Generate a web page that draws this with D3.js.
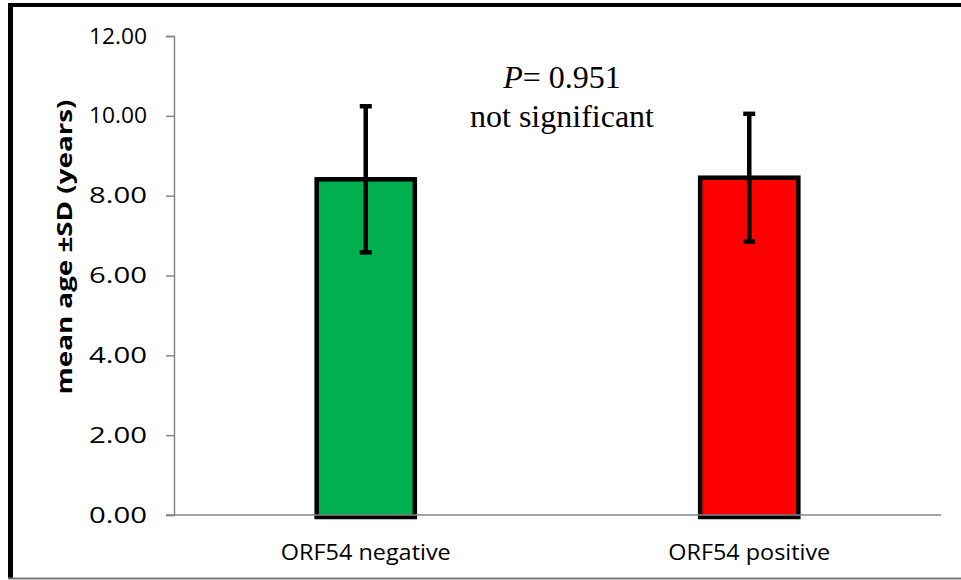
<!DOCTYPE html>
<html>
<head>
<meta charset="utf-8">
<script src="https://cdn.jsdelivr.net/npm/d3@7"></script>
<style>
  html, body { margin: 0; padding: 0; background: #fff; }
  svg { display: block; }
</style>
</head>
<body>
<script>
// data
const categories = ["ORF54 negative", "ORF54 positive"]
const means = [8.41, 8.45]
const sds = [1.83, 1.6]
const barColors = ["#00B050", "#FF0000"]
const yTicks = [0, 2, 4, 6, 8, 10, 12]
const yLabel = "mean age \u00B1SD (years)"
const pLine = "0.951"
const sigLine = "not significant"

// inits
const W = 961, H = 580
const m = {left: 174, right: 20, top: 36, bottom: 65}
const sans = "'Open Sans', 'Noto Sans', sans-serif"
const serif = "'Liberation Serif', 'Times New Roman', serif"

const svg = d3.select("body").append("svg")
    .attr("width", W)
    .attr("height", H)

// chart area frame (shadowed look)
svg.append("line").attr("x1", 8).attr("x2", W).attr("y1", 5).attr("y2", 5)
    .attr("stroke", "#000").attr("stroke-width", 4)
svg.append("line").attr("x1", 10.5).attr("x2", 10.5).attr("y1", 3).attr("y2", 579)
    .attr("stroke", "#000").attr("stroke-width", 5)
svg.append("line").attr("x1", 8).attr("x2", W).attr("y1", 578.5).attr("y2", 578.5)
    .attr("stroke", "#777").attr("stroke-width", 2)

// scales
const x = d3.scaleBand()
    .domain(categories)
    .range([m.left, 941])
    .padding(0)
const y = d3.scaleLinear()
    .domain([0, 12])
    .range([H - m.bottom, m.top])

const barW = x.bandwidth() * 0.256

// y axis
const yAxis = svg.append("g")
    .attr("transform", `translate(${m.left},0)`)
    .call(d3.axisLeft(y).tickValues(yTicks).tickFormat(d3.format(".2f")).tickSize(8).tickPadding(19))
yAxis.select(".domain").attr("stroke", "#868686").attr("stroke-width", 1.5)
yAxis.selectAll(".tick line").attr("stroke", "#868686").attr("stroke-width", 1.5)
yAxis.selectAll(".tick text")
    .attr("font-family", sans)
    .attr("font-size", 22)
    .attr("fill", "#000")
    .attr("textLength", 58)
    .attr("lengthAdjust", "spacingAndGlyphs")

// bars
svg.append("g").selectAll("rect")
    .data(categories)
    .join("rect")
    .attr("x", d => x(d) + x.bandwidth()/2 - barW/2)
    .attr("width", barW)
    .attr("y", (d, i) => y(means[i]))
    .attr("height", (d, i) => y(0) - y(means[i]) + 2)
    .attr("fill", (d, i) => barColors[i])
    .attr("stroke", "#000")
    .attr("stroke-width", 4.5)

// x axis line (drawn over bar bottoms)
svg.append("line")
    .attr("x1", m.left - 8).attr("x2", 941)
    .attr("y1", y(0)).attr("y2", y(0))
    .attr("stroke", "#868686").attr("stroke-width", 1.5)

// error bars
const err = svg.append("g").attr("stroke", "#000")
categories.forEach((c, i) => {
    let cx = x(c) + x.bandwidth()/2
    let hi = y(means[i] + sds[i]), lo = y(means[i] - sds[i])
    err.append("line").attr("x1", cx).attr("x2", cx).attr("y1", hi).attr("y2", lo).attr("stroke-width", 4.5)
    err.append("line").attr("x1", cx - 6).attr("x2", cx + 6).attr("y1", hi).attr("y2", hi).attr("stroke-width", 4.5)
    err.append("line").attr("x1", cx - 6).attr("x2", cx + 6).attr("y1", lo).attr("y2", lo).attr("stroke-width", 4.5)
})

// category labels
const catWidths = [170, 162]
svg.append("g").selectAll("text")
    .data(categories)
    .join("text")
    .attr("x", d => x(d) + x.bandwidth()/2)
    .attr("y", 560)
    .attr("text-anchor", "middle")
    .attr("font-family", sans)
    .attr("font-size", 22)
    .attr("fill", "#000")
    .attr("textLength", (d, i) => catWidths[i])
    .attr("lengthAdjust", "spacingAndGlyphs")
    .text(d => d)

// y label
svg.append("text")
    .attr("transform", `translate(72,247) rotate(-90)`)
    .attr("text-anchor", "middle")
    .attr("font-family", sans)
    .attr("font-weight", "bold")
    .attr("font-size", 21)
    .attr("fill", "#000")
    .attr("textLength", 295)
    .attr("lengthAdjust", "spacingAndGlyphs")
    .text(yLabel)

// p value annotation
const ann = svg.append("text")
    .attr("x", 562)
    .attr("y", 88)
    .attr("text-anchor", "middle")
    .attr("font-family", serif)
    .attr("font-size", 32)
    .attr("fill", "#000")
ann.append("tspan").attr("font-style", "italic").text("P")
ann.append("tspan").text("= " + pLine)

svg.append("text")
    .attr("x", 562)
    .attr("y", 127)
    .attr("text-anchor", "middle")
    .attr("font-family", serif)
    .attr("font-size", 32)
    .attr("fill", "#000")
    .text(sigLine)
</script>
</body>
</html>
